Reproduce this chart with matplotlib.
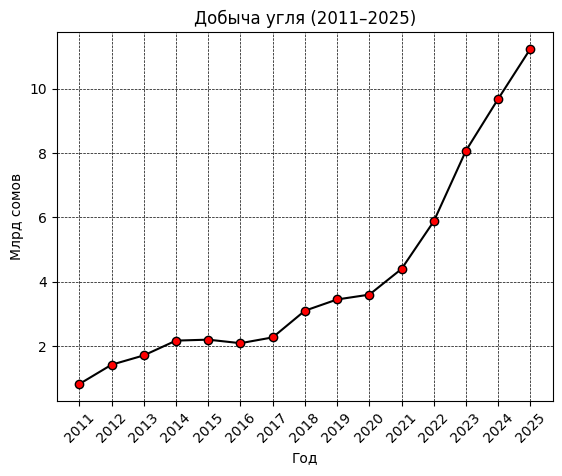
import matplotlib
matplotlib.use("Agg")
import matplotlib.pyplot as plt

years = [2011, 2012, 2013, 2014, 2015, 2016, 2017, 2018, 2019, 2020,
         2021, 2022, 2023, 2024, 2025]
values = [0.82, 1.42, 1.71, 2.17, 2.20, 2.09, 2.27, 3.10, 3.45, 3.60,
          4.40, 5.88, 8.08, 9.69, 11.25]

fig = plt.figure(figsize=(5.62, 4.76), dpi=100)
ax = fig.add_axes([0.101, 0.158, 0.883, 0.775])
ax.plot(years, values, color="black", marker="o", markerfacecolor="red",
        markeredgecolor="black", markersize=6)
ax.set_title("Добыча угля (2011–2025)")
ax.set_xlabel("Год")
ax.set_ylabel("Млрд сомов")
ax.set_xticks(years)
ax.set_xticklabels([str(y) for y in years], rotation=45)
ax.grid(True, color="black", linestyle="--", linewidth=0.5)
fig.savefig("out.png", dpi=100)
